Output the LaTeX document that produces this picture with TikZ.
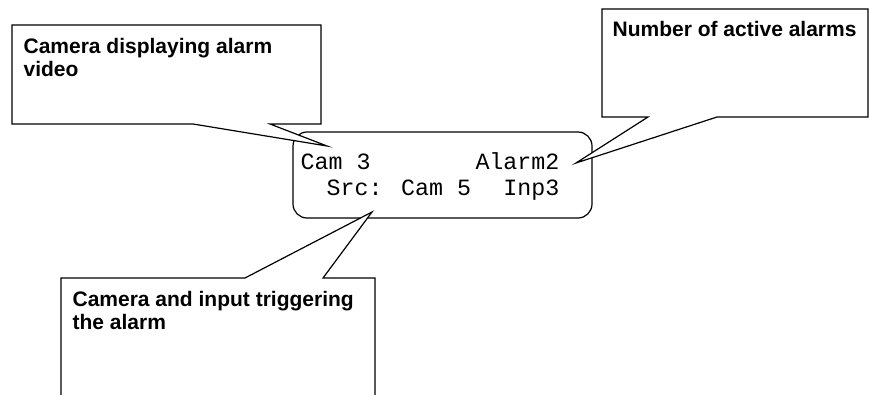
\documentclass[tikz,border=0pt]{standalone}
\usepackage{fontspec}
\setmainfont{Liberation Sans}
\newfontfamily\lcdfont{Liberation Mono}
\begin{document}
\begin{tikzpicture}[x=1pt,y=-1pt,
  line width=1.2pt, line join=miter,
  calloutline/.style={draw=black, fill=white},
  callouttext/.style={font=\fontsize{21}{23}\selectfont\bfseries, inner sep=0pt, anchor=north west, align=left},
  lcdbox/.style={draw=black, rounded corners=14pt},
  lcdtext/.style={font=\fontsize{23.3}{26}\selectfont\lcdfont, inner sep=0pt}]
\useasboundingbox (0,0) rectangle (869,395);
\begin{scope}
\clip (0,0) rectangle (869,395);
% LCD display
\draw[lcdbox] (293,132) rectangle (592,218);
\node[lcdtext, anchor=base west] (cam3) at (300,170) {Cam 3};
\node[lcdtext, anchor=base east] (alarm) at (560,170) {Alarm2};
\node[lcdtext, anchor=base west] (src) at (326,196) {Src: Cam 5};
\node[lcdtext, anchor=base east] (inp) at (560,196) {Inp3};
% tips
\coordinate (tipA) at (327,146);
\coordinate (tipB) at (576,163);
\coordinate (tipC) at (372,212);
% callout 1
\draw[calloutline] (12,25) -- (321,25) -- (321,124) -- (270,124) -- (tipA) -- (193,124) -- (12,124) -- cycle;
\node[callouttext] (t1) at (23,37.5) {Camera displaying alarm\\video};
% callout 2
\draw[calloutline] (602,9) -- (868,9) -- (868,117) -- (717,117) -- (tipB) -- (648,117) -- (602,117) -- cycle;
\node[callouttext] (t2) at (612,20.5) {Number of active alarms};
% callout 3
\draw[calloutline] (61,400) -- (61,278) -- (245,278) -- (tipC) -- (323,278) -- (375,278) -- (375,400);
\node[callouttext] (t3) at (72,290.5) {Camera and input triggering\\the alarm};
\end{scope}
\end{tikzpicture}
\end{document}
